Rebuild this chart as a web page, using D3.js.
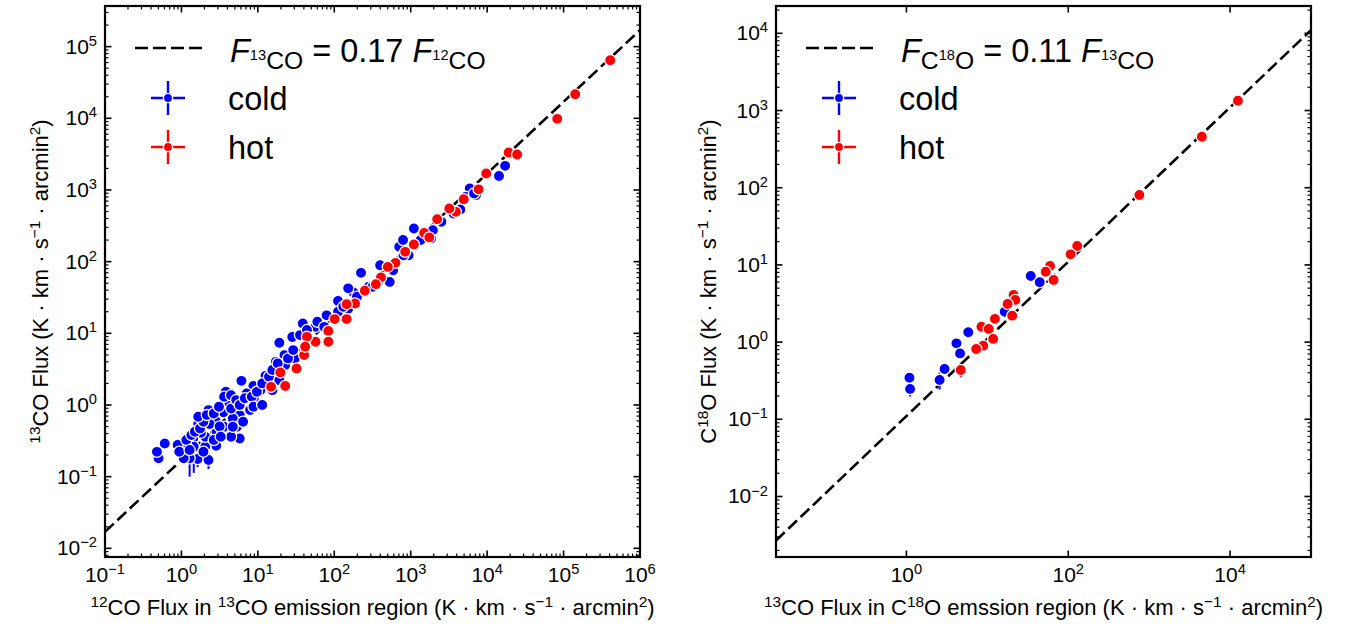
<!DOCTYPE html>
<html><head><meta charset="utf-8">
<script src="https://cdn.jsdelivr.net/npm/d3@7"></script>
<style>
body{margin:0;background:#fff}
svg{display:block}
text{font-family:"Liberation Sans",Arial,Helvetica,sans-serif;fill:#000}
</style>
</head><body>
<svg id="c" width="1361" height="627"></svg>
<script>
// ---------- DATA ----------
// Left panel: 13CO flux vs 12CO flux
const leftColdX = [17200,14300,5920,7130,4460,2520,1850,1100,938,708,531,224,178,152,152,56.8,38.7,30.4,22.3,19.1,22.8,17.2,12.6,10.8,8.75,7.13,6.10,5.79,7.91,5.79,4.70,4.46,5.32,4.23,3.61,3.54,3.82,2.88,2.85,2.79,2.15,2.05,2.34,2.26,2.05,1.80,1.75,1.63,1.66,1.42,1.45,1.28,1.15,1.07,1.02,0.891,2.26,0.605,0.502,0.478,3.16,4.47,8.9,14.1,28.2,44.7,79.4,112,282,398,794,
  1.16,1.35,1.50,1.75,1.94,1.66,2.15,2.65,3.10,3.62,4.46,5.21,5.78,6.76,8.32,9.72,11.4,14.0,15.5,18.2,24.8,29.0,35.6,43.9,60.0,73.8,112,131,0.938,1.28,1.94,2.65,3.27,4.70,6.41,8.77,11.4,15.5,19.1,
  5220,6760,3630,1950,1350,805,589,389,316,198];
const leftColdY = [2170,1570,1050,847,535,359,211,290,123,161,52.2,69.8,37.2,42.4,22.0,12.3,13.7,4.47,4.97,7.38,3.60,4.0,2.55,1.61,1.84,1.45,2.17,0.723,0.849,0.341,0.650,0.360,0.497,1.07,0.497,0.789,1.53,0.423,0.270,0.603,0.324,0.261,0.542,0.849,0.360,0.409,0.615,0.176,0.553,0.341,0.261,0.180,0.282,0.180,0.270,0.276,0.171,0.290,0.180,0.222,0.5,0.89,1.26,2.24,8.9,7.1,17.8,28.2,44.7,89,200,
  0.324,0.380,0.424,0.471,0.583,0.685,0.723,0.762,0.944,1.30,1.37,1.17,1.0,1.24,1.30,1.53,2.0,2.48,3.07,3.80,4.47,5.83,9.44,11.1,14.5,12.3,20.0,23.4,0.223,0.235,0.223,0.324,0.361,0.497,0.583,0.944,1.0,1.61,2.22,
  802,893,470,275,200,123,76,55.2,44.6,32.3];
const leftColdErr = [217,157,105,85,54,36,21,29,12,16,5,7,4,4,2.2,1.2,1.4,0.45,0.5,0.74,0.36,0.4,0.26,0.16,0.18,0.15,0.22,0.07,0.08,0.03,0.07,0.04,0.05,0.11,0.05,0.08,0.15,0.04,0.03,0.06,0.03,0.03,0.05,0.08,0.04,0.04,0.06,0.04,0.06,0.03,0.148,0.08,0.03,0.02,0.03,0.03,0.043,0.03,0.02,0.02,0.05,0.09,0.13,0.22,0.9,0.7,1.8,2.8,4.5,9,20,
  0.03,0.04,0.04,0.05,0.06,0.07,0.07,0.08,0.09,0.13,0.14,0.12,0.1,0.12,0.13,0.15,0.2,0.25,0.3,0.38,0.45,0.58,0.94,1.1,1.45,1.2,2.0,2.3,0.02,0.02,0.02,0.03,0.04,0.05,0.06,0.09,0.1,0.16,0.22,
  80,89,47,27,20,12,7.6,5.5,4.5,3.2];
const leftHotX = [408000,142000,82600,19100,24700,9730,7730,4940,3900,3200,2220,1500,1750,1100,847,632,502,408,350,251,187,145,145,101,83.6,83.6,56.8,43.9,40.3,41.6,32.1,19.7,22.8,14.9];
const leftHotY = [64600,21700,9820,3330,3130,1700,1020,745,495,552,392,252,218,174,137,96.2,84.5,60.3,48.5,39.2,26.1,25.5,15.8,15.8,10.8,7.62,7.62,8.93,4.97,6.52,3.24,2.85,1.84,1.79];
const leftHotErr = [3000,1000,500,160,150,80,50,35,25,27,20,12,10,8,7,5,4,3,2.4,2,1.3,1.2,0.8,0.8,0.5,0.4,0.4,0.45,0.25,0.3,0.16,0.14,0.09,0.09];
const leftRatio = 0.17;

// Right panel: C18O flux vs 13CO flux
const rightColdX = [34.4,44.4,16.4,5.81,4.15,4.60,2.96,2.57,1.09,1.11];
const rightColdY = [7.18,5.96,2.47,1.34,0.964,0.714,0.448,0.323,0.345,0.247];
const rightColdErr = [0.3,0.3,0.15,0.06,0.05,0.05,0.03,0.08,0.03,0.05];
const rightHotX = [12500,4480,757,129,107,59.6,52.7,65.9,21.1,22.2,17.8,20.3,12.4,8.45,10.4,11.8,8.89,7.28,4.69];
const rightHotY = [1340,458,80.4,17.6,13.7,9.68,8.17,6.37,4.07,3.52,3.12,2.20,2.0,1.58,1.48,1.10,0.90,0.815,0.436];
const rightHotErr = [60,20,4,0.9,0.7,0.5,0.4,0.3,0.2,0.18,0.15,0.11,0.1,0.08,0.07,0.06,0.05,0.04,0.085];
const rightRatio = 0.11;

// Axis limits and tick values
const leftXDomain = [1e-1, 1e6];
const leftYDomain = [Math.pow(10,-2.121), Math.pow(10,5.567)];
const rightXDomain = [Math.pow(10,-1.612), 1e5];
const rightYDomain = [Math.pow(10,-2.784), Math.pow(10,4.354)];
const leftXTicks = [1e-1,1e0,1e1,1e2,1e3,1e4,1e5,1e6];
const leftYTicks = [1e-2,1e-1,1e0,1e1,1e2,1e3,1e4,1e5];
const rightXTicks = [1e0,1e2,1e4];
const rightYTicks = [1e-2,1e-1,1e0,1e1,1e2,1e3,1e4];

const seriesNames = ["cold","hot"];
const seriesColors = {cold:"#0000ff", hot:"#ff0000"};

// ---------- DRAWING ----------
const svg = d3.select("#c");
const FONT_TICK = 21, FONT_LABEL = 22, FONT_LEG = 32.5;

function rich(g, x, y, parts, size, anchor, rotate) {
  const t = g.append("text").attr("x", x).attr("y", y)
    .attr("font-size", size).attr("text-anchor", anchor || "start");
  if (rotate) t.attr("transform", `rotate(${rotate},${x},${y})`);
  let cur = 0;
  parts.forEach(p => {
    const sc = p.sc || 1, off = (p.off || 0) * size;
    const ts = t.append("tspan").attr("font-size", size * sc).attr("dy", off - cur).text(p.t);
    if (p.it) ts.attr("font-style", "italic");
    cur = off;
  });
  return t;
}
const SUP = (t) => ({t, sc:0.7, off:-0.38});
const N = (t) => ({t});

function expLabel(v) {
  const e = Math.round(Math.log10(v));
  return [N("10"), SUP(e < 0 ? "\u2212" + (-e) : String(e))];
}

function panel(cfg) {
  const {x0, x1, y0, y1} = cfg;
  const g = svg.append("g");
  const x = d3.scaleLog().domain(cfg.xDomain).range([x0, x1]);
  const y = d3.scaleLog().domain(cfg.yDomain).range([y1, y0]);
  const clipId = "clip" + cfg.id;
  svg.append("clipPath").attr("id", clipId).append("rect")
    .attr("x", x0).attr("y", y0).attr("width", x1 - x0).attr("height", y1 - y0);
  const plot = g.append("g").attr("clip-path", `url(#${clipId})`);

  // ratio line
  const lineData = [cfg.xDomain[0], cfg.xDomain[1]].map(v => [v, v * cfg.ratio]);
  plot.append("path")
    .attr("d", d3.line().x(d => x(d[0])).y(d => y(d[1]))(lineData))
    .attr("stroke", "#000").attr("stroke-width", 2.6).attr("fill", "none")
    .attr("stroke-dasharray", "12,5");

  // series
  cfg.series.forEach(s => {
    const col = seriesColors[s.name];
    const pts = s.x.map((v, i) => ({x: v, y: s.y[i], e: s.e[i]}));
    plot.append("g").selectAll("line").data(pts).join("line")
      .attr("x1", d => x(d.x)).attr("x2", d => x(d.x))
      .attr("y1", d => y(Math.max(d.y - d.e, 1e-6))).attr("y2", d => y(d.y + d.e))
      .attr("stroke", col).attr("stroke-width", 2);
    plot.append("g").selectAll("circle").data(pts).join("circle")
      .attr("cx", d => x(d.x)).attr("cy", d => y(d.y)).attr("r", 5.6)
      .attr("fill", col).attr("stroke", "#fff").attr("stroke-width", 1.3);
  });

  // ticks (inward, all four sides)
  const tg = g.append("g").attr("stroke", "#000");
  function minors(domain) {
    const out = [];
    const a = Math.floor(Math.log10(domain[0])), b = Math.ceil(Math.log10(domain[1]));
    for (let e = a; e <= b; e++) for (let k = 2; k <= 9; k++) {
      const v = k * Math.pow(10, e);
      if (v > domain[0] && v < domain[1]) out.push(v);
    }
    return out;
  }
  const MJ = 6.5, MN = 3.5;
  cfg.xTicks.forEach(v => {
    const px = x(v);
    tg.append("line").attr("x1", px).attr("x2", px).attr("y1", y1).attr("y2", y1 - MJ).attr("stroke-width", 1.6);
    tg.append("line").attr("x1", px).attr("x2", px).attr("y1", y0).attr("y2", y0 + MJ).attr("stroke-width", 1.6);
  });
  if (cfg.xMinor) minors(cfg.xDomain).forEach(v => {
    const px = x(v);
    tg.append("line").attr("x1", px).attr("x2", px).attr("y1", y1).attr("y2", y1 - MN).attr("stroke-width", 1.2);
    tg.append("line").attr("x1", px).attr("x2", px).attr("y1", y0).attr("y2", y0 + MN).attr("stroke-width", 1.2);
  });
  cfg.yTicks.forEach(v => {
    const py = y(v);
    tg.append("line").attr("y1", py).attr("y2", py).attr("x1", x0).attr("x2", x0 + MJ).attr("stroke-width", 1.6);
    tg.append("line").attr("y1", py).attr("y2", py).attr("x1", x1).attr("x2", x1 - MJ).attr("stroke-width", 1.6);
  });
  minors(cfg.yDomain).forEach(v => {
    const py = y(v);
    tg.append("line").attr("y1", py).attr("y2", py).attr("x1", x0).attr("x2", x0 + MN).attr("stroke-width", 1.2);
    tg.append("line").attr("y1", py).attr("y2", py).attr("x1", x1).attr("x2", x1 - MN).attr("stroke-width", 1.2);
  });

  // frame
  g.append("rect").attr("x", x0).attr("y", y0).attr("width", x1 - x0).attr("height", y1 - y0)
    .attr("fill", "none").attr("stroke", "#000").attr("stroke-width", 2.2);

  // tick labels
  cfg.xTicks.forEach(v => rich(g, x(v), y1 + 25, expLabel(v), FONT_TICK, "middle"));
  cfg.yTicks.forEach(v => rich(g, x0 - 8, y(v) + 7, expLabel(v), FONT_TICK, "end"));

  // axis titles
  rich(g, (x0 + x1) / 2, y1 + 58, cfg.xTitle, FONT_LABEL, "middle");
  rich(g, cfg.yTitleX, (y0 + y1) / 2, cfg.yTitle, FONT_LABEL, "middle", -90);

  // legend
  const lg = g.append("g");
  lg.append("line").attr("x1", x0 + 30).attr("x2", x0 + 97).attr("y1", y0 + 42).attr("y2", y0 + 42)
    .attr("stroke", "#000").attr("stroke-width", 2.6).attr("stroke-dasharray", "13,5");
  rich(lg, x0 + 125, y0 + 56, cfg.legendFormula, FONT_LEG, "start");
  seriesNames.forEach((nm, i) => {
    const cy = y0 + 92 + i * 49, cx = x0 + 63, col = seriesColors[nm];
    lg.append("line").attr("x1", cx - 17).attr("x2", cx + 17).attr("y1", cy).attr("y2", cy).attr("stroke", col).attr("stroke-width", 2.4);
    lg.append("line").attr("x1", cx).attr("x2", cx).attr("y1", cy - 17).attr("y2", cy + 17).attr("stroke", col).attr("stroke-width", 2.4);
    lg.append("circle").attr("cx", cx).attr("cy", cy).attr("r", 4.6).attr("fill", col).attr("stroke", "#fff").attr("stroke-width", 1.4);
    lg.append("text").attr("x", x0 + 123).attr("y", cy + 12).attr("font-size", FONT_LEG).text(nm);
  });
}

const dotSep = " \u00b7 ";
panel({
  id: "L", x0: 105, x1: 640, y0: 6, y1: 557, ratio: leftRatio,
  xDomain: leftXDomain, yDomain: leftYDomain, xTicks: leftXTicks, yTicks: leftYTicks, xMinor: true,
  series: [
    {name: "cold", x: leftColdX, y: leftColdY, e: leftColdErr},
    {name: "hot", x: leftHotX, y: leftHotY, e: leftHotErr}
  ],
  xTitle: [SUP("12"), N("CO Flux in "), SUP("13"), N("CO emission region (K" + dotSep + "km" + dotSep + "s"), SUP("\u22121"), N(dotSep + "arcmin"), SUP("2"), N(")")],
  yTitle: [SUP("13"), N("CO Flux (K" + dotSep + "km" + dotSep + "s"), SUP("\u22121"), N(dotSep + "arcmin"), SUP("2"), N(")")],
  yTitleX: 48,
  legendFormula: [{t:"F", it:true}, {t:"13", sc:0.45, off:-0.05}, {t:"CO", sc:0.76, off:0.2}, {t:" = 0.17 ", off:0}, {t:"F", it:true}, {t:"12", sc:0.45, off:-0.05}, {t:"CO", sc:0.76, off:0.2}]
});
panel({
  id: "R", x0: 776, x1: 1311, y0: 6, y1: 557, ratio: rightRatio,
  xDomain: rightXDomain, yDomain: rightYDomain, xTicks: rightXTicks, yTicks: rightYTicks, xMinor: false,
  series: [
    {name: "cold", x: rightColdX, y: rightColdY, e: rightColdErr},
    {name: "hot", x: rightHotX, y: rightHotY, e: rightHotErr}
  ],
  xTitle: [SUP("13"), N("CO Flux in C"), SUP("18"), N("O emssion region (K" + dotSep + "km" + dotSep + "s"), SUP("\u22121"), N(dotSep + "arcmin"), SUP("2"), N(")")],
  yTitle: [N("C"), SUP("18"), N("O Flux (K" + dotSep + "km" + dotSep + "s"), SUP("\u22121"), N(dotSep + "arcmin"), SUP("2"), N(")")],
  yTitleX: 716,
  legendFormula: [{t:"F", it:true}, {t:"C", sc:0.76, off:0.2}, {t:"18", sc:0.45, off:-0.05}, {t:"O", sc:0.76, off:0.2}, {t:" = 0.11 ", off:0}, {t:"F", it:true}, {t:"13", sc:0.45, off:-0.05}, {t:"CO", sc:0.76, off:0.2}]
});
</script>
</body></html>
